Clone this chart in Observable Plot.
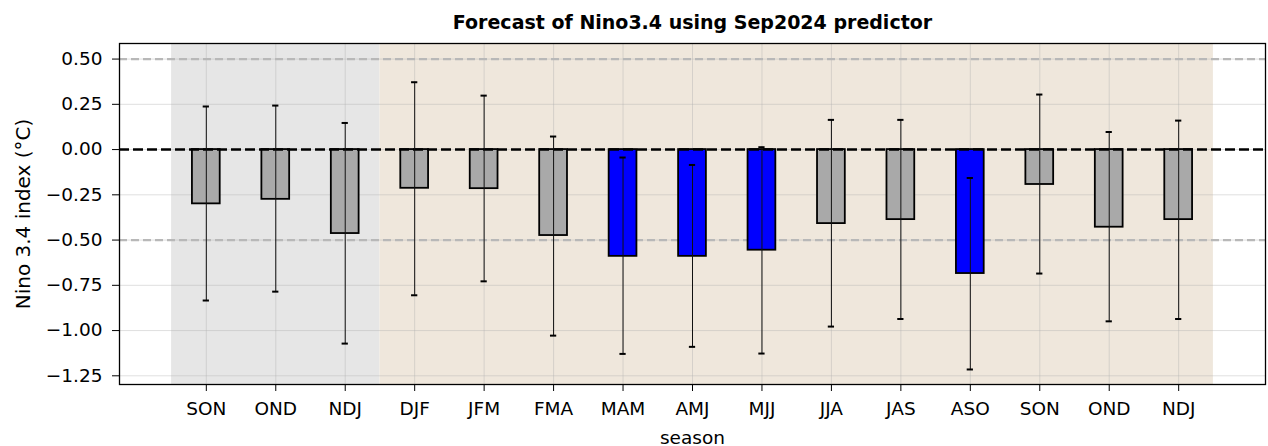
<!DOCTYPE html>
<html>
<head>
<meta charset="utf-8">
<script src="https://cdn.jsdelivr.net/npm/d3@7"></script>
<script src="https://cdn.jsdelivr.net/npm/@observablehq/plot@0.6"></script>
<style>
  html, body { margin: 0; padding: 0; background: #fff; }
  #chart svg { display: block; }
</style>
</head>
<body>
<div id="chart"></div>
<script>
// ---- data ----
const title = "Forecast of Nino3.4 using Sep2024 predictor";
const yLabel = "Nino 3.4 index (°C)";
const xLabel = "season";
const seasons = ["SON","OND","NDJ","DJF","JFM","FMA","MAM","AMJ","MJJ","JJA","JAS","ASO","SON","OND","NDJ"];
const forecast = [-0.300,-0.275,-0.464,-0.214,-0.216,-0.475,-0.590,-0.590,-0.556,-0.409,-0.387,-0.685,-0.193,-0.429,-0.387];
const errLow   = [-0.834,-0.785,-1.072,-0.805,-0.728,-1.028,-1.129,-1.090,-1.127,-0.978,-0.936,-1.215,-0.685,-0.949,-0.936];
const errHigh  = [ 0.238, 0.243, 0.147, 0.372, 0.298, 0.072,-0.044,-0.085, 0.013, 0.164, 0.164,-0.157, 0.304, 0.097, 0.160];
const significant = [false,false,false,false,false,false,true,true,true,false,false,true,false,false,false];
const nObserved = 3;
const yTicks = [0.5, 0.25, 0, -0.25, -0.5, -0.75, -1.0, -1.25];
const thresholds = [0.5, -0.5];

// ---- table ----
const n = seasons.length;
const table = seasons.map((s, i) => ({
  i, season: s, value: forecast[i], lo: errLow[i], hi: errHigh[i], sig: significant[i]
}));
const periods = [
  {x1: -0.5, x2: nObserved - 0.5, kind: "obs"},
  {x1: nObserved - 0.5, x2: n - 0.5, kind: "fcst"}
];

const bw = 0.2, cap = 0.045;

const chart = Plot.plot({
  width: 1268,
  height: 446,
  marginLeft: 119,
  marginRight: 3,
  marginTop: 43,
  marginBottom: 62,
  style: {fontFamily: "'DejaVu Sans', sans-serif", fontSize: "18.5px", color: "#000", background: "#fff"},
  x: {
    domain: [-1.25, n + 0.25],
    ticks: d3.range(n),
    tickFormat: i => seasons[i],
    tickSize: 7,
    tickPadding: 10,
    label: null
  },
  y: {
    domain: [-1.298, 0.586],
    ticks: yTicks,
    tickFormat: d3.format(".2f"),
    tickSize: 7,
    tickPadding: 10,
    label: null
  },
  color: {type: "ordinal", domain: [false, true], range: ["#a9a9a9", "#0000ff"]},
  marks: [
    Plot.rect(periods, {x1: "x1", x2: "x2", fill: d => d.kind === "obs" ? "#e6e6e6" : "#efe7dc"}),
    Plot.gridX(d3.range(n), {stroke: "#b0b0b0", strokeOpacity: 0.4, strokeWidth: 1}),
    Plot.gridY(yTicks, {stroke: "#b0b0b0", strokeOpacity: 0.4, strokeWidth: 1}),
    Plot.ruleY(thresholds, {stroke: "#b8b8b8", strokeWidth: 2.2, strokeDasharray: "8,4"}),
    Plot.rect(table, {x1: d => d.i - bw, x2: d => d.i + bw, y1: 0, y2: "value", fill: "sig", stroke: "#000", strokeWidth: 1.8}),
    Plot.ruleY([0], {stroke: "#000", strokeWidth: 2.4, strokeDasharray: "10,4"}),
    Plot.ruleX(table, {x: "i", y1: "lo", y2: "hi", stroke: "#111", strokeWidth: 1}),
    Plot.ruleY(table, {y: "lo", x1: d => d.i - cap, x2: d => d.i + cap, stroke: "#000", strokeWidth: 2}),
    Plot.ruleY(table, {y: "hi", x1: d => d.i - cap, x2: d => d.i + cap, stroke: "#000", strokeWidth: 2}),
    Plot.frame({stroke: "#000", strokeWidth: 1.3}),
    Plot.text([title], {frameAnchor: "top", dy: -15, lineAnchor: "bottom", fontWeight: "bold", fontSize: 19}),
    Plot.text([yLabel], {frameAnchor: "left", textAnchor: "middle", dx: -96, rotate: -90, fontSize: 20}),
    Plot.text([xLabel], {frameAnchor: "bottom", dy: 59, fontSize: 18.5})
  ]
});
document.getElementById("chart").append(chart);
</script>
</body>
</html>
